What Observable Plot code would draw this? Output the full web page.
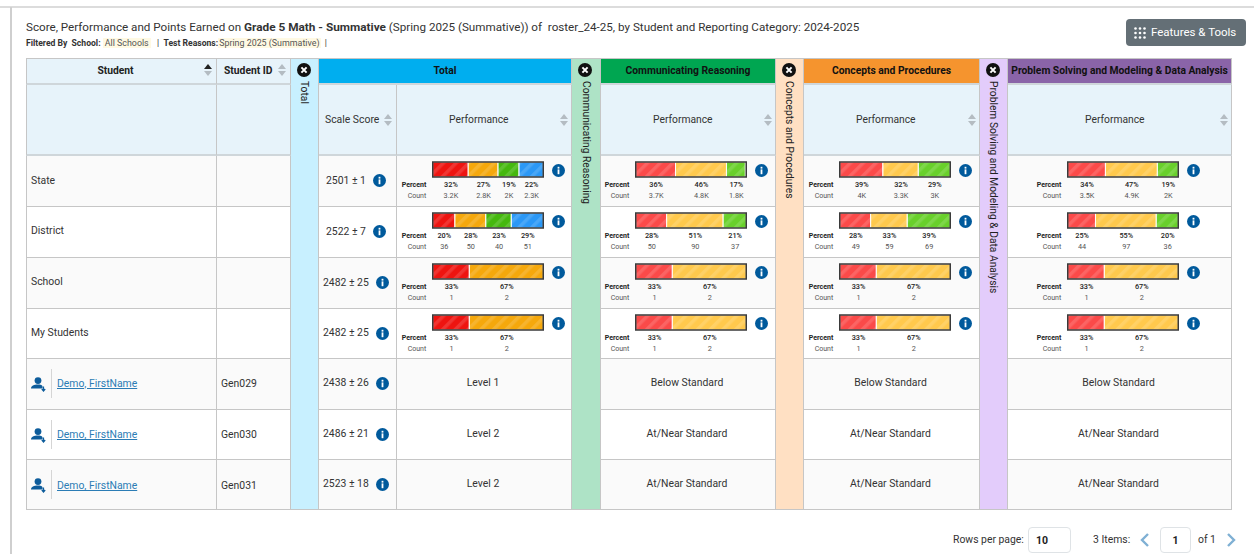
<!DOCTYPE html>
<html>
<head>
<meta charset="utf-8">
<script src="https://cdn.jsdelivr.net/npm/d3@7"></script>
<script src="https://cdn.jsdelivr.net/npm/@observablehq/plot@0.6"></script>
<style>
html,body{margin:0;padding:0;background:#fff;}
body{width:1254px;height:554px;overflow:hidden;position:relative;font-family:Roboto,sans-serif;color:#333;}
.abs{position:absolute;white-space:nowrap;}
#grid{position:absolute;left:26px;top:58px;display:grid;box-sizing:border-box;
 grid-template-columns:191px 74px 28px 78px 175px 29px 175px 28px 176px 28px 224px;
 grid-template-rows:27px 71px 51px 51px 51px 50px 51px 50px 50px;}
.c{box-sizing:border-box;position:relative;border-right:1px solid #c6c6c6;border-bottom:1px solid #c6c6c6;font-size:10.4px;display:flex;align-items:center;white-space:nowrap;}
.hd{background:#e7f3fa;border-bottom:2px solid #cfd6da;}
.t{font-weight:700;font-size:10.3px;color:#222;justify-content:center;padding-bottom:2px;}
.top{border-top:1px solid #c6c6c6;}
.first{border-left:1px solid #c6c6c6;}
.strip span{position:absolute;top:22px;left:50%;transform:translateX(-50%);writing-mode:vertical-rl;font-size:10.25px;color:#222;}
svg.ic{position:absolute;overflow:visible;}
a{color:#2b7cb5;text-decoration:underline;}
.in{position:absolute;box-sizing:border-box;background:#fff;border:1px solid #dfe3e6;border-radius:4px;font-size:10.5px;font-weight:700;display:flex;align-items:center;color:#222;}
</style>
</head>
<body>
<script>
// ---- data ----
const rowLabels = ["State", "District", "School", "My Students"];
const studentIds = ["Gen029", "Gen030", "Gen031"];
const studentName = "Demo, FirstName";
const scaleScores = ["2501 ± 1", "2522 ± 7", "2482 ± 25", "2482 ± 25", "2438 ± 26", "2486 ± 21", "2523 ± 18"];
const totalLevels = ["Level 1", "Level 2", "Level 2"];
const claimLevels = ["Below Standard", "At/Near Standard", "At/Near Standard"];
const categories = ["Total", "Communicating Reasoning", "Concepts and Procedures", "Problem Solving and Modeling & Data Analysis"];
const totalPercent = [[32,27,19,22],[20,28,23,29],[33,67],[33,67]];
const totalCount = [["3.2K","2.8K","2K","2.3K"],["36","50","40","51"],["1","2"],["1","2"]];
const reasoningPercent = [[36,46,17],[28,51,21],[33,67],[33,67]];
const reasoningCount = [["3.7K","4.8K","1.8K"],["50","90","37"],["1","2"],["1","2"]];
const conceptsPercent = [[39,32,29],[28,33,39],[33,67],[33,67]];
const conceptsCount = [["4K","3.3K","3K"],["49","59","69"],["1","2"],["1","2"]];
const problemPercent = [[34,47,19],[25,55,20],[33,67],[33,67]];
const problemCount = [["3.5K","4.9K","2K"],["44","97","36"],["1","2"],["1","2"]];
const totalColors = ["#ee1410","#f5a80c","#45b80e","#2b98f6"];
const claimColors = ["#fb4a49","#ffc94d","#69d02b"];
const headerColors = ["#00aeef","#00a651","#f5942e","#8a64a8"];
const stripColors = ["#c8f0ff","#aee3c6","#ffe0c3","#e3ccfb"];

// ---- layout constants ----
const catCols = [{strip:3,col:5,w:175,bar:35.75,icon:161,perf:52},{strip:6,col:7,w:175,bar:34.75,icon:160,perf:52},{strip:8,col:9,w:176,bar:35.75,icon:161,perf:52},{strip:10,col:11,w:224,bar:59.75,icon:185,perf:77}];
const percents = [totalPercent, reasoningPercent, conceptsPercent, problemPercent];
const counts = [totalCount, reasoningCount, conceptsCount, problemCount];
const grey = "#b4bcc2";
const labelNudge = [-1,-2,-2,-1];
const linkNudge = [-1,0,1];
const scoreNudge = [-2,-1,-1];
const levelNudge = [-2,-1.5,-1.5];

const el = (tag, cls, html, parent) => { const e = document.createElement(tag); if (cls) e.className = cls; if (html != null) e.innerHTML = html; (parent||document.body).appendChild(e); return e; };
const place = (e, x, y, w, h) => { e.style.left=x+"px"; e.style.top=y+"px"; if(w!=null)e.style.width=w+"px"; if(h!=null)e.style.height=h+"px"; return e; };

const infoIcon = (x, y) => `<svg class="ic" style="left:${x-6.5}px;top:${y-6.5}px" width="13" height="13" viewBox="0 0 13 13"><circle cx="6.5" cy="6.5" r="6.5" fill="#005a9c"/><rect x="5.6" y="5.4" width="1.8" height="4.8" fill="#fff"/><rect x="5.6" y="2.8" width="1.8" height="1.8" fill="#fff"/></svg>`;
const sortIcon = (x, y, active) => `<svg class="ic" style="left:${x-4}px;top:${y-6}px" width="8" height="12" viewBox="0 0 8 12"><path d="M4 0L8 5H0Z" fill="${active?"#222":grey}"/><path d="M4 12L8 7H0Z" fill="${grey}"/></svg>`;
const closeIcon = (x, y) => `<svg class="ic" style="left:${x-7}px;top:${y-7}px" width="14" height="14" viewBox="0 0 14 14"><circle cx="7" cy="7" r="7" fill="#111"/><path d="M4.4 4.4L9.6 9.6M9.6 4.4L4.4 9.6" stroke="#fff" stroke-width="2"/></svg>`;
const personIcon = (x, y) => `<svg class="ic" style="left:${x}px;top:${y}px" width="16" height="15" viewBox="0 0 16 15"><circle cx="7" cy="3.6" r="3.4" fill="#0d5c9b"/><path d="M0 11.5C0 8.6 3 7.5 7 7.5S12 8.6 11.5 11.5Z" fill="#0d5c9b"/><path d="M12.5 9.5V13.5M10.8 12L12.5 14L14.2 12" stroke="#0d5c9b" stroke-width="1.2" fill="none"/></svg>`;

// ---- panel frame and titles ----
place(el("div","abs",null),0,6,1254,0).style.borderTop="2px solid #dcdcdc";
place(el("div","abs",null),10,7,0,547).style.borderLeft="2px solid #cfcfcf";
const title = place(el("div","abs",`Score, Performance and Points Earned on <b style="font-size:11.8px">Grade 5 Math - Summative</b> (Spring 2025 (Summative)) of &nbsp;roster_24-25, by Student and Reporting Category: 2024-2025`),26,20);
title.style.fontSize="11.65px"; title.style.color="#333";
const filt = place(el("div","abs",`<b>Filtered By &nbsp;School:</b> <span style="background:#fff9e3;color:#555;font-size:8.9px;padding:0 2px">All Schools</span> &nbsp; | &nbsp;<b>Test Reasons:</b><span style="background:#fff9e3;color:#555;font-size:8.9px;padding:0 1px">Spring 2025 (Summative)</span> &nbsp;|`),26,38);
filt.style.fontSize="8.6px";
const btn = place(el("div","abs",`<svg class="ic" style="left:8px;top:8px" width="12" height="12" viewBox="0 0 12 12" fill="#fff"><circle cx="1.5" cy="1.5" r="1.3"/><circle cx="6" cy="1.5" r="1.3"/><circle cx="10.5" cy="1.5" r="1.3"/><circle cx="1.5" cy="6" r="1.3"/><circle cx="6" cy="6" r="1.3"/><circle cx="10.5" cy="6" r="1.3"/><circle cx="1.5" cy="10.5" r="1.3"/><circle cx="6" cy="10.5" r="1.3"/><circle cx="10.5" cy="10.5" r="1.3"/></svg><span style="position:absolute;left:25px;top:6px">Features &amp; Tools</span>`),1126,19,120,27);
btn.style.cssText+="background:#646f76;border-radius:4px;color:#fff;font-size:11.5px;";

// ---- table ----
const grid = el("div",null,null); grid.id="grid";
const cell = (col,row,cls,html,colSpan,rowSpan) => { const c = el("div","c "+(cls||""),html,grid); c.style.gridColumn=`${col} / span ${colSpan||1}`; c.style.gridRow=`${row} / span ${rowSpan||1}`; return c; };
const rowBg = r => r % 2 === 0 ? "#fafafa" : "#fff";

const sh = cell(1,1,"hd t top first","Student"+sortIcon(181,11,true)); sh.style.paddingRight="12px";
const ih = cell(2,1,"hd t top","Student ID"+sortIcon(65,11)); ih.style.justifyContent="flex-start"; ih.style.paddingLeft="7px";
cell(1,2,"hd first"); cell(2,2,"hd");
cell(4,2,"hd",`<span style="margin-left:6px">Scale Score</span>`+sortIcon(69,35));

categories.forEach((cat,i)=>{
  const k = catCols[i];
  const s = cell(k.strip,1,"strip top",`${closeIcon(13,11)}<span>${cat}</span>`,1,9);
  s.style.background = stripColors[i];
  const head = cell(i===0?4:k.col,1,"t top",cat,i===0?2:1);
  head.style.background = headerColors[i];
  head.style.borderBottom="2px solid #cfd6da";
  head.style.color="#111";
  cell(k.col,2,"hd",`<span style="position:absolute;left:${k.perf}px;top:28px;font-size:10.3px">Performance</span>`+sortIcon(k.w-8,35));
});

// ---- stacked performance bar, one small Plot per cell ----
function hatchDefs() {
  return () => {
    const defs = document.createElementNS("http://www.w3.org/2000/svg","defs");
    defs.innerHTML = `<pattern id="hatch" patternUnits="userSpaceOnUse" width="9" height="9" patternTransform="rotate(45)"><rect x="0" y="0" width="3.5" height="9" fill="#fff" fill-opacity="0.14"/></pattern>`;
    return defs;
  };
}
function perfBar(pct, cnt, colors, k) {
  const data = pct.map((p,j)=>({p, n:cnt[j], color:colors[j]}));
  const seg = o => Plot.stackX({x:"p",y:()=>"bar",...o});
  return Plot.plot({
    width:k.w, height:51, marginLeft:k.bar, marginRight:k.w-k.bar-110.5, marginTop:5.75, marginBottom:0,
    style:{background:"transparent",fontFamily:"Roboto",position:"absolute",left:"0",top:"0",overflow:"visible",maxWidth:"none"},
    x:{domain:[0,100],axis:null},
    y:{type:"band",domain:["bar","Percent","Count"],axis:null,padding:0},
    marks:[
      hatchDefs(),
      Plot.barX(data,seg({fill:"color"})),
      Plot.barX(data,seg({fill:"url(#hatch)"})),
      Plot.barX(data,seg({fill:"none",stroke:"#fff",strokeWidth:.8})),
      Plot.barX([100],{x:d=>d,y:()=>"bar",fill:"none",stroke:"#3a3a3a",strokeWidth:1.5}),
      Plot.text(data,Plot.stackX({x:"p",y:()=>"Percent",text:d=>d.p+"%",fontSize:7.3,fontWeight:500,fill:"#222",dy:-.75})),
      Plot.text(data,Plot.stackX({x:"p",y:()=>"Count",text:"n",fontSize:7.3,fill:"#555",dy:-4})),
      Plot.text(["Percent"],{frameAnchor:"left",y:d=>d,text:d=>d,textAnchor:"end",dx:-7,dy:-.75,fontSize:7,fontWeight:700,fill:"#222"}),
      Plot.text(["Count"],{frameAnchor:"left",y:d=>d,text:d=>d,textAnchor:"end",dx:-7,dy:-4,fontSize:7,fill:"#555"})
    ]
  });
}

rowLabels.forEach((lab,r)=>{
  const row = r+3, bg = rowBg(r);
  const c1 = cell(1,row,"first",`<span style="margin-left:4px;position:relative;top:${labelNudge[r]}px">${lab}</span>`); c1.style.background=bg;
  cell(2,row).style.background=bg;
  const s = cell(4,row,"",`<span style="margin-left:${r<2?7:4}px;position:relative;top:-1px">${scaleScores[r]}</span>`+infoIcon(r<2?60:63,24));
  s.style.background=bg;
  catCols.forEach((k,i)=>{
    const colors = i===0 ? totalColors : claimColors;
    const c = cell(k.col,row,"",infoIcon(k.icon,14));
    c.style.background=bg;
    c.appendChild(perfBar(percents[i][r],counts[i][r],colors,k));
  });
});

studentIds.forEach((id,n)=>{
  const r = n+4, row = r+3, bg = rowBg(r);
  const c1 = cell(1,row,"first",personIcon(4,18)+`<span style="position:absolute;left:24px;top:10px;height:29px;border-left:1px solid #d5d5d5"></span><a style="margin-left:30px;position:relative;top:${linkNudge[n]}px">${studentName}</a>`);
  c1.style.background=bg;
  const c2 = cell(2,row,"",`<span style="margin-left:4px;position:relative;top:${linkNudge[n]}px">${id}</span>`); c2.style.background=bg;
  const s = cell(4,row,"",`<span style="margin-left:4px;position:relative;top:${scoreNudge[n]}px">${scaleScores[r]}</span>`+infoIcon(63,24));
  s.style.background=bg;
  catCols.forEach((k,i)=>{
    const c = cell(k.col,row,"",`<span style="position:relative;left:-1px;top:${levelNudge[n]}px">${(i===0?totalLevels:claimLevels)[n]}</span>`);
    c.style.background=bg; c.style.justifyContent="center";
  });
});

// ---- pager ----
const small = (txt,x,y)=>{const e=place(el("div","abs",txt),x,y); e.style.fontSize="10.4px"; return e;};
small("Rows per page:",953,533);
place(el("div","in",`<span style="margin-left:7px">10</span>`),1028,527,43,26);
small("3 Items:",1093,533);
place(el("div","in",`<span style="margin:auto">1</span>`),1160,527,31,26);
small("of 1",1198,533);
const chev=(x,d)=>{place(el("div","abs",`<svg width="10" height="14" viewBox="0 0 10 14"><path d="${d}" fill="none" stroke="#7fb0d4" stroke-width="2.4"/></svg>`),x,532);};
chev(1140,"M8 1L2 7L8 13");
chev(1226,"M2 1L8 7L2 13");
</script>
</body>
</html>
